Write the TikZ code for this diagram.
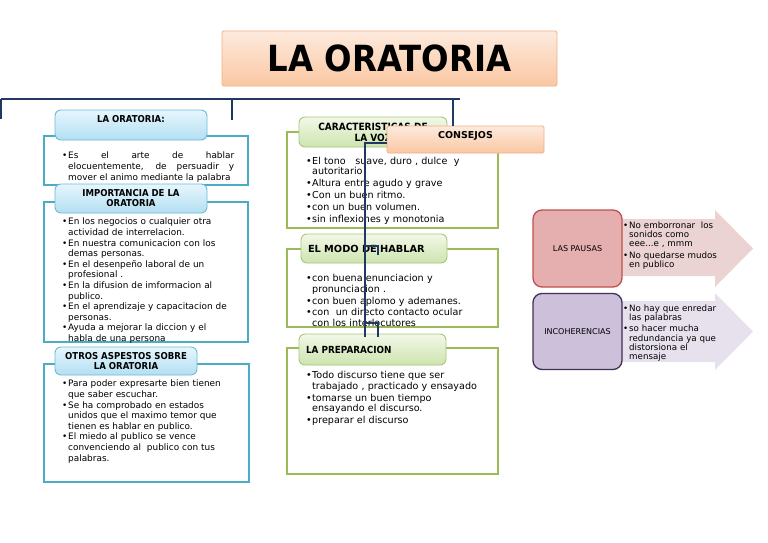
\documentclass[tikz,border=0pt]{standalone}
\usepackage{fontspec}
\setmainfont{DejaVu Sans}
\newfontfamily\condensed{DejaVu Sans Condensed}
\usepackage{xcolor}
\usepackage{tikz}
\usetikzlibrary{positioning,calc}

\definecolor{navy}{HTML}{1F3864}
\definecolor{titletop}{HTML}{FDEADD}
\definecolor{titlebot}{HTML}{FAC7A2}
\definecolor{titleline}{HTML}{F2B085}
\definecolor{bluetop}{HTML}{E6F6FD}
\definecolor{bluebot}{HTML}{B3DFF2}
\definecolor{blueline}{HTML}{6DBAD6}
\definecolor{bluebox}{HTML}{4BACC6}
\definecolor{greentop}{HTML}{F2F8E8}
\definecolor{greenbot}{HTML}{CDE4AE}
\definecolor{greenline}{HTML}{A8C77A}
\definecolor{greenbox}{HTML}{9BBB59}
\definecolor{pausafill}{HTML}{E5AFB0}
\definecolor{pausaline}{HTML}{C0504D}
\definecolor{pausaarrow}{HTML}{EBD3D3}
\definecolor{incofill}{HTML}{CCC0DA}
\definecolor{incoline}{HTML}{3F3151}
\definecolor{incoarrow}{HTML}{E6E1ED}

\newlength{\bulw}
\setlength{\bulw}{6pt}
\newcommand{\itm}[1]{\hangindent=\bulw\hangafter=1\noindent\makebox[\bulw][l]{\textbullet}#1\par}

\begin{document}
\begin{tikzpicture}[x=1pt, y=-1pt,
        titlenode/.style={draw=titleline, line width=0.8pt, top color=titletop, bottom color=titlebot, rounded corners=1.5pt, minimum width=335pt, minimum height=55pt, font=\condensed\bfseries\fontsize{36}{40}\selectfont},
        bluehead/.style={draw=blueline, line width=0.9pt, top color=bluetop, bottom color=bluebot, rounded corners=6pt, align=center, font=\condensed\bfseries\fontsize{9.5}{10}\selectfont},
        greenhead/.style={draw=greenline, line width=0.9pt, top color=greentop, bottom color=greenbot, rounded corners=6pt, font=\condensed\bfseries\fontsize{10}{11}\selectfont},
        bluerect/.style={draw=bluebox, line width=1.6pt, fill=white},
        greenrect/.style={draw=greenbox, line width=1.4pt, fill=white},
        lefttext/.style={anchor=north west, inner sep=0pt, text width=175pt, align=left, font=\fontsize{8.9}{10.6}\selectfont},
        midtext/.style={anchor=north west, inner sep=0pt, text width=190pt, align=left, font=\fontsize{9.6}{10.2}\selectfont\setlength{\parskip}{1.7pt}},
        arrowtext/.style={anchor=north west, inner sep=0pt, text width=100pt, align=left, font=\fontsize{8.7}{9.3}\selectfont\setlength{\parskip}{2pt}},
        link/.style={draw=navy, line width=1.8pt},
    ]
    \useasboundingbox (0,0) rectangle (768,543);

    % Arrows
    \fill[pausaarrow] (600,219) -- (715,219) -- (715,210) -- (753,248.5) -- (715,287) -- (715,276) -- (600,276) -- cycle;
    \fill[incoarrow] (600,301) -- (715,301) -- (715,293) -- (753,331.5) -- (715,370) -- (715,362) -- (600,362) -- cycle;

    % Nodes
    \node[titlenode] (title) at (389.5,58.5) {LA ORATORIA};

    \node[bluerect, minimum width=204pt, minimum height=49pt] (defbox) at (146,160.5) {};
    \node[bluerect, minimum width=204pt, minimum height=140pt] (impbox) at (146,272) {};
    \node[bluerect, minimum width=205pt, minimum height=118pt] (otrbox) at (146.5,423) {};

    \node[lefttext, align=justify, text width=172pt] (deftext) at (62,152) {\itm{Es el arte de hablar\linebreak elocuentemente, de persuadir y\linebreak mover el animo mediante la palabra}};
    \node[lefttext] (imptext) at (62,218) {%
        \itm{En los negocios o cualquier otra\newline actividad de interrelacion.}
        \itm{En nuestra comunicacion con los\newline demas personas.}
        \itm{En el desenpeño laboral de un\newline profesional .}
        \itm{En la difusion de imformacion al\newline publico.}
        \itm{En el aprendizaje y capacitacion de\newline personas.}
        \itm{Ayuda a mejorar la diccion y el\newline habla de una persona}};
    \node[lefttext] (otrtext) at (62,380) {%
        \itm{Para poder expresarte bien tienen\newline que saber escuchar.}
        \itm{Se ha comprobado en estados\newline unidos que el maximo temor que\newline tienen es hablar en publico.}
        \itm{El miedo al publico se vence\newline convenciendo al \ publico con tus\newline palabras.}};

    \node[bluehead, minimum width=152pt, minimum height=30pt, text depth=13pt] (defhead) at (131,125) {LA ORATORIA:};
    \node[bluehead, minimum width=152pt, minimum height=29pt] (imphead) at (131,198.5) {IMPORTANCIA DE LA\\ORATORIA};
    \node[bluehead, minimum width=142pt, minimum height=28pt] (otrhead) at (126,361) {OTROS ASPESTOS SOBRE\\LA ORATORIA};

    \node[greenrect, minimum width=211pt, minimum height=96pt] (vozbox) at (392.5,180) {};
    \node[greenrect, minimum width=211pt, minimum height=78pt] (modobox) at (392.5,288) {};
    \node[greenrect, minimum width=211pt, minimum height=126pt] (prepbox) at (392.5,411) {};

    \node[midtext] (voztext) at (306,157) {%
        \itm{El tono \ \ suave, duro , dulce \ y\newline autoritario}
        \itm{Altura entre agudo y grave}
        \itm{Con un buen ritmo.}
        \itm{con un buen volumen.}
        \itm{sin inflexiones y monotonia}};
    \node[midtext] (modotext) at (306,274.5) {%
        \itm{con buena enunciacion y\newline pronunciacion .}
        \itm{con buen aplomo y ademanes.}
        \itm{con \ un directo contacto ocular\newline con los interlocutores}};
    \node[midtext] (preptext) at (306,371.5) {%
        \itm{Todo discurso tiene que ser\newline trabajado , practicado y ensayado}
        \itm{tomarse un buen tiempo\newline ensayando el discurso.}
        \itm{preparar el discurso}};

    \node[greenhead, minimum width=148pt, minimum height=30pt, align=center] (vozhead) at (373,132) {CARACTERISTICAS DE\\LA VOZ};
    \node[greenhead, minimum width=146pt, minimum height=29pt, text width=132pt, align=left, font=\bfseries\fontsize{9.8}{11}\selectfont] (modohead) at (374,248.5) {EL MODO DE HABLAR};
    \node[greenhead, minimum width=147pt, minimum height=31pt, text width=133pt, align=left, font=\condensed\bfseries\fontsize{9.8}{11}\selectfont] (prephead) at (372.5,349.5) {LA PREPARACION};

    \node[draw=titleline, line width=0.8pt, top color=titletop, bottom color=titlebot, rounded corners=1.5pt, minimum width=157pt, minimum height=27pt, text depth=9pt, font=\bfseries\fontsize{9.5}{10}\selectfont] (consejos) at (465.5,139.5) {CONSEJOS};

    \node[draw=pausaline, line width=1.3pt, fill=pausafill, rounded corners=9pt, minimum width=89pt, minimum height=77pt, font=\fontsize{8}{9}\selectfont] (pausas) at (577.5,248.5) {LAS PAUSAS};
    \node[draw=incoline, line width=1.3pt, fill=incofill, rounded corners=9pt, minimum width=89pt, minimum height=76pt, font=\fontsize{8}{9}\selectfont] (incoh) at (577.5,331.5) {INCOHERENCIAS};

    \node[arrowtext] (pausatext) at (623,221.5) {%
        \itm{No emborronar \ los\newline sonidos como\newline eee...e , mmm}
        \itm{No quedarse mudos\newline en publico}};
    \node[arrowtext] (incotext) at (623,304.5) {%
        \itm{No hay que enredar\newline las palabras}
        \itm{so hacer mucha\newline redundancia ya que\newline distorsiona el\newline mensaje}};

    % Edges
    \coordinate (busL) at (1,99);
    \coordinate (busR) at (460,99);
    \coordinate (dropL) at (1,119);
    \coordinate (busM) at (232,99);
    \coordinate (dropM) at (232,120);
    \coordinate (busC) at (453,99);
    \coordinate (spineEnd) at (365,337);
    \coordinate (brA) at (365,246);
    \coordinate (brAend) at (378,255);
    \coordinate (brB) at (365,323);
    \coordinate (brBend) at (378,337);

    \draw[link] (busL) -- (busR);
    \draw[link] (busL) -- (dropL);
    \draw[link] (busM) -- (dropM);
    \draw[link] (busC) -- (busC |- consejos.north);
    \draw[link] ($(consejos.west)+(0,3.5)$) -| (spineEnd);
    \draw[link] (brA) -| (brAend);
    \draw[link] (brB) -| (brBend);
\end{tikzpicture}
\end{document}
